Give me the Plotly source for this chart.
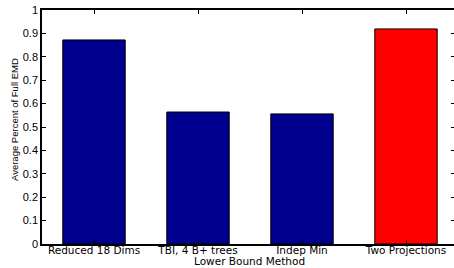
import plotly.graph_objects as go

categories = ["Reduced 18 Dims", "TBI, 4 B+ trees", "Indep Min", "Two Projections"]
values = [0.872, 0.564, 0.556, 0.919]
colors = ["#00008F", "#00008F", "#00008F", "#FF0000"]
yticks = [0, 0.1, 0.2, 0.3, 0.4, 0.5, 0.6, 0.7, 0.8, 0.9, 1]
yticklabels = ["0", "0.1", "0.2", "0.3", "0.4", "0.5", "0.6", "0.7", "0.8", "0.9", "1"]

xpos = [1, 2, 3, 4]
lib = "Liberation Sans, Arial, sans-serif"
dv = "DejaVu Sans, sans-serif"

fig = go.Figure()
fig.add_trace(go.Bar(
    x=xpos, y=values, width=0.6,
    marker=dict(color=colors, line=dict(color="black", width=1)),
    showlegend=False,
))
# invisible trace for right-side ticks
fig.add_trace(go.Scatter(x=[1], y=[0], yaxis="y2", mode="markers",
                         marker=dict(opacity=0), showlegend=False, hoverinfo="skip"))

plot_h = 268 - 10 - 24
fig.update_layout(
    width=454, height=268,
    margin=dict(l=42, r=0, t=10, b=24),
    paper_bgcolor="white", plot_bgcolor="white",
    font=dict(family=lib, size=10, color="black"),
    xaxis=dict(
        range=[0.5, 0.5 + (454 - 42) / 104.0],
        tickmode="array", tickvals=xpos, ticktext=categories,
        ticks="inside", ticklen=4, tickcolor="black",
        showline=True, linecolor="black", linewidth=1.5, mirror="ticks",
        showgrid=False, zeroline=False, automargin=False,
        tickfont=dict(family=dv, size=10.5), ticklabelstandoff=-4,
    ),
    yaxis=dict(
        range=[0, 1],
        tickmode="array", tickvals=yticks, ticktext=yticklabels,
        ticks="inside", ticklen=4, tickcolor="black",
        showline=True, linecolor="black", linewidth=1.5,
        showgrid=False, zeroline=False, automargin=False,
        tickfont=dict(family=lib, size=11),
    ),
    yaxis2=dict(
        overlaying="y", side="right", range=[0, 1],
        tickmode="array", tickvals=yticks, showticklabels=False,
        ticks="inside", ticklen=3, tickcolor="black",
        showline=False, showgrid=False, zeroline=False, automargin=False,
    ),
    annotations=[
        dict(
            text="Lower Bound Method", x=0.5 + (249 - 42) / 104.0, xref="x",
            y=(244 - 261) / plot_h, yref="paper", yanchor="middle", showarrow=False,
            font=dict(family=dv, size=10.5),
        ),
        dict(
            text="Average Percent of Full EMD", textangle=-90,
            x=(14 - 42) / 412.0, xref="paper", xanchor="center",
            y=(244 - 120) / plot_h, yref="paper", yanchor="middle", showarrow=False,
            font=dict(family=lib, size=9.5),
        ),
    ],
)

fig.write_html("out.html", config={"displayModeBar": False},
               post_script="document.body.style.margin='0px';")
